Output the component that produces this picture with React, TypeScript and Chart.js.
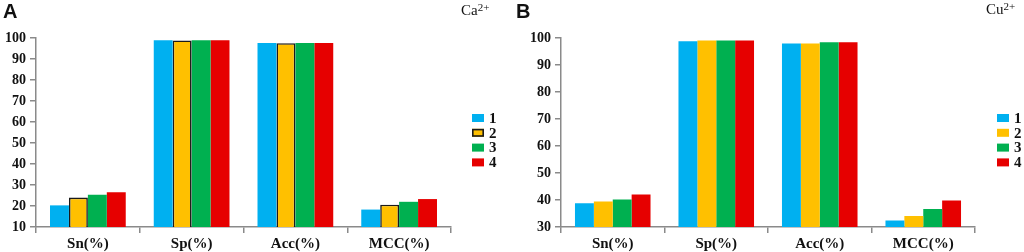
import React, { useEffect, useRef } from 'react';
import { Chart, registerables } from 'chart.js';

Chart.register(...registerables);

// ---------- data ----------
const categories = ['Sn(%)', 'Sp(%)', 'Acc(%)', 'MCC(%)'];
const seriesLabels = ['1', '2', '3', '4'];
const seriesColors = ['#00B0F0', '#FFC000', '#00B050', '#E60000'];

const caSeries1 = [20.3, 98.9, 97.6, 18.3];
const caSeries2 = [24.0, 98.8, 97.5, 20.6];
const caSeries3 = [25.3, 98.9, 97.6, 22.0];
const caSeries4 = [26.5, 98.9, 97.6, 23.3];

const cuSeries1 = [38.8, 98.8, 98.0, 32.4];
const cuSeries2 = [39.4, 99.1, 98.0, 34.1];
const cuSeries3 = [40.2, 99.1, 98.4, 36.7];
const cuSeries4 = [42.0, 99.1, 98.4, 39.8];

const caAxis = [10, 100, 10]; // min, max, step
const cuAxis = [30, 100, 10];

const caOutlinedSeries = [false, true, false, false];
const cuOutlinedSeries = [false, false, false, false];

// ---------- styling ----------
const AXIS_COLOR = '#8a8a8a';
const TEXT_COLOR = '#111111';
const SERIF = '"Liberation Serif", "Times New Roman", serif';

type PanelProps = {
  series: number[][];
  axis: number[];
  outlined: boolean[];
  axisWidth: number;
  padRight: number;
  padTop: number;
  legendX: number;
  legendY: number;
};

function makeLegendPlugin(x: number, y: number) {
  return {
    id: 'sideLegend',
    afterDraw(chart: any) {
      const ctx = chart.ctx;
      const boxW = 12;
      const boxH = 8;
      const gap = 14.8;
      ctx.save();
      chart.data.datasets.forEach((ds: any, i: number) => {
        const yy = y + i * gap;
        ctx.fillStyle = ds.backgroundColor;
        ctx.fillRect(x, yy - boxH / 2, boxW, boxH);
        if (ds.borderWidth > 0) {
          ctx.strokeStyle = ds.borderColor;
          ctx.lineWidth = 1.6;
          ctx.strokeRect(x + 0.8, yy - boxH / 2 + 0.8, boxW - 1.6, boxH - 1.6);
        }
        ctx.fillStyle = TEXT_COLOR;
        ctx.font = `bold 15px ${SERIF}`;
        ctx.textBaseline = 'middle';
        ctx.textAlign = 'left';
        ctx.fillText(ds.label, x + boxW + 5, yy + 1);
      });
      ctx.restore();
    },
  };
}

function Panel(props: PanelProps) {
  const ref = useRef<HTMLCanvasElement | null>(null);
  useEffect(() => {
    if (!ref.current) return;
    const datasets = props.series.map((vals, i) => ({
      label: seriesLabels[i],
      data: vals,
      backgroundColor: seriesColors[i],
      borderColor: '#1a1a1a',
      borderWidth: props.outlined[i] ? 1.6 : 0,
      borderSkipped: false,
      categoryPercentage: 0.73,
      barPercentage: 1.0,
    }));
    const chart = new Chart(ref.current, {
      type: 'bar',
      data: { labels: categories, datasets },
      options: {
        animation: false,
        responsive: false,
        maintainAspectRatio: false,
        layout: { padding: { left: 0, right: props.padRight, top: props.padTop, bottom: 0 } },
        plugins: { legend: { display: false }, tooltip: { enabled: false }, title: { display: false } },
        scales: {
          x: {
            grid: {
              display: true,
              drawOnChartArea: false,
              offset: true,
              tickLength: 6,
              color: AXIS_COLOR,
              lineWidth: 1.5,
            },
            border: { color: AXIS_COLOR, width: 1.5 },
            ticks: {
              color: TEXT_COLOR,
              font: { family: SERIF, size: 15, weight: 'bold' },
              padding: 2,
              maxRotation: 0,
            },
            afterFit: (s: any) => {
              s.height = 25;
            },
          },
          y: {
            min: props.axis[0],
            max: props.axis[1],
            grid: {
              display: true,
              drawOnChartArea: false,
              tickLength: 6,
              color: AXIS_COLOR,
              lineWidth: 1.5,
            },
            border: { color: AXIS_COLOR, width: 1.5 },
            ticks: {
              stepSize: props.axis[2],
              color: TEXT_COLOR,
              font: { family: SERIF, size: 14, weight: 'bold' },
              padding: 4,
            },
            afterFit: (s: any) => {
              s.width = props.axisWidth;
            },
          },
        },
      } as any,
      plugins: [makeLegendPlugin(props.legendX, props.legendY)],
    });
    return () => chart.destroy();
  }, []);
  return <canvas ref={ref} width={512} height={252} style={{ display: 'block', width: 512, height: 252 }} />;
}

const letterStyle: React.CSSProperties = {
  position: 'absolute',
  fontFamily: '"Liberation Sans", Arial, sans-serif',
  fontWeight: 'bold',
  fontSize: 20,
  lineHeight: 1,
  color: '#111',
};

const ionStyle: React.CSSProperties = {
  position: 'absolute',
  fontFamily: SERIF,
  fontSize: 15,
  lineHeight: 1,
  color: '#111',
  whiteSpace: 'nowrap',
};

const supStyle: React.CSSProperties = { fontSize: 11, verticalAlign: 'top', position: 'relative', top: -1 };

export default function App() {
  return (
    <div style={{ position: 'absolute', left: 0, top: 0, width: 1024, height: 252, background: '#fff', overflow: 'hidden' }}>
      <div style={{ position: 'absolute', left: 0, top: 0 }}>
        <Panel
          series={[caSeries1, caSeries2, caSeries3, caSeries4]}
          axis={caAxis}
          outlined={caOutlinedSeries}
          axisWidth={36}
          padRight={61}
          padTop={38}
          legendX={472}
          legendY={118}
        />
      </div>
      <div style={{ position: 'absolute', left: 512, top: 0 }}>
        <Panel
          series={[cuSeries1, cuSeries2, cuSeries3, cuSeries4]}
          axis={cuAxis}
          outlined={cuOutlinedSeries}
          axisWidth={49}
          padRight={49}
          padTop={38}
          legendX={485}
          legendY={118}
        />
      </div>
      <div style={{ ...letterStyle, left: 3, top: 1 }}>A</div>
      <div style={{ ...letterStyle, left: 516, top: 1 }}>B</div>
      <div style={{ ...ionStyle, left: 461, top: 3 }}>
        Ca<sup style={supStyle}>2+</sup>
      </div>
      <div style={{ ...ionStyle, left: 986, top: 2 }}>
        Cu<sup style={supStyle}>2+</sup>
      </div>
    </div>
  );
}
